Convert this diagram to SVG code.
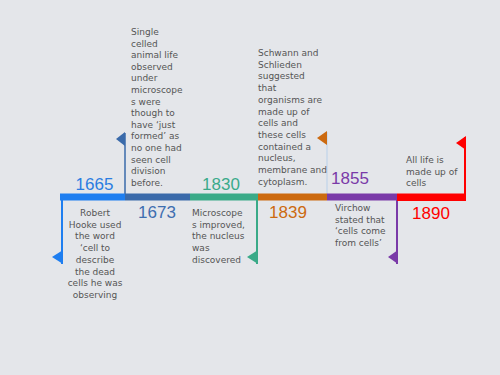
<svg xmlns="http://www.w3.org/2000/svg" width="500" height="375" viewBox="0 0 500 375">
<style>
.yr{font-family:"Liberation Sans",Arial,sans-serif;font-size:17px;text-anchor:middle}
.d{font-family:"DejaVu Sans",sans-serif;font-size:9px;fill:#555}
.c{text-anchor:middle}
</style>
<rect width="500" height="375" fill="#e4e6ea"/>
<g id="connectors">
<line x1="62" y1="197" x2="62" y2="264" stroke="#1e7ef0" stroke-width="2"/>
<polygon points="63,250 63,264 52,257" fill="#1e7ef0"/>
<line x1="125" y1="197" x2="125" y2="133" stroke="#3a6aaa" stroke-width="1.5"/>
<polygon points="125,132 125,146 116,139" fill="#3a6aaa"/>
<line x1="257" y1="197" x2="257" y2="264" stroke="#3aaa88" stroke-width="2"/>
<polygon points="258,250 258,264 247,257" fill="#3aaa88"/>
<line x1="327" y1="197" x2="327" y2="132" stroke="#b8d0ea" stroke-width="1"/>
<polygon points="327,131 327,145 317,138" fill="#cc6a10"/>
<line x1="397" y1="197" x2="397" y2="264" stroke="#7a3aa8" stroke-width="2"/>
<polygon points="398,250 398,264 388,257" fill="#7a3aa8"/>
<line x1="465" y1="200" x2="465" y2="137" stroke="#ff0000" stroke-width="2"/>
<polygon points="466,136 466,150 456,143" fill="#ff0000"/>
</g>
<g id="e1665">
<rect x="60" y="193.5" width="65" height="7" fill="#1e7ef0"/>
<text class="yr" x="94.5" y="190" fill="#2a7de1">1665</text>
<text class="d c" x="95" y="216"><tspan x="95">Robert</tspan><tspan x="95" dy="11.7">Hooke used</tspan><tspan x="95" dy="11.7">the word</tspan><tspan x="95" dy="11.7">‘cell to</tspan><tspan x="95" dy="11.7">describe</tspan><tspan x="95" dy="11.7">the dead</tspan><tspan x="95" dy="11.7">cells he was</tspan><tspan x="95" dy="11.7">observing</tspan></text>
</g>
<g id="e1673">
<rect x="125" y="193.5" width="65" height="7" fill="#3a6aaa"/>
<text class="yr" x="157" y="218" fill="#3e6eb0">1673</text>
<text class="d" x="131" y="35"><tspan x="131">Single</tspan><tspan x="131" dy="11.6">celled</tspan><tspan x="131" dy="11.6">animal life</tspan><tspan x="131" dy="11.6">observed</tspan><tspan x="131" dy="11.6">under</tspan><tspan x="131" dy="11.6">microscope</tspan><tspan x="131" dy="11.6">s were</tspan><tspan x="131" dy="11.6">though to</tspan><tspan x="131" dy="11.6">have ‘just</tspan><tspan x="131" dy="11.6">formed’ as</tspan><tspan x="131" dy="11.6">no one had</tspan><tspan x="131" dy="11.6">seen cell</tspan><tspan x="131" dy="11.6">division</tspan><tspan x="131" dy="11.6">before.</tspan></text>
</g>
<g id="e1830">
<rect x="190" y="193.5" width="68" height="7" fill="#3aaa88"/>
<text class="yr" x="221" y="190" fill="#3aaa8a">1830</text>
<text class="d" x="192" y="216"><tspan x="192">Microscope</tspan><tspan x="192" dy="11.7">s improved,</tspan><tspan x="192" dy="11.7">the nucleus</tspan><tspan x="192" dy="11.7">was</tspan><tspan x="192" dy="11.7">discovered</tspan></text>
</g>
<g id="e1839">
<rect x="258" y="193.5" width="69" height="7" fill="#cc6a10"/>
<text class="yr" x="288" y="218" fill="#cc6a10">1839</text>
<text class="d" x="258" y="56"><tspan x="258">Schwann and</tspan><tspan x="258" dy="11.7">Schlieden</tspan><tspan x="258" dy="11.7">suggested</tspan><tspan x="258" dy="11.7">that</tspan><tspan x="258" dy="11.7">organisms are</tspan><tspan x="258" dy="11.7">made up of</tspan><tspan x="258" dy="11.7">cells and</tspan><tspan x="258" dy="11.7">these cells</tspan><tspan x="258" dy="11.7">contained a</tspan><tspan x="258" dy="11.7">nucleus,</tspan><tspan x="258" dy="11.7">membrane and</tspan><tspan x="258" dy="11.7">cytoplasm.</tspan></text>
</g>
<g id="e1855">
<rect x="327" y="193.5" width="70" height="7" fill="#7a3aa8"/>
<text class="yr" x="350" y="184" fill="#7a3aa8">1855</text>
<text class="d" x="335" y="211"><tspan x="335">Virchow</tspan><tspan x="335" dy="11.7">stated that</tspan><tspan x="335" dy="11.7">‘cells come</tspan><tspan x="335" dy="11.7">from cells’</tspan></text>
</g>
<g id="e1890">
<rect x="397" y="193.5" width="69" height="7.5" fill="#ff0000"/>
<text class="yr" x="431" y="219" fill="#ff0000">1890</text>
<text class="d" x="406" y="163"><tspan x="406">All life is</tspan><tspan x="406" dy="11.7">made up of</tspan><tspan x="406" dy="11.7">cells</tspan></text>
</g>
</svg>
